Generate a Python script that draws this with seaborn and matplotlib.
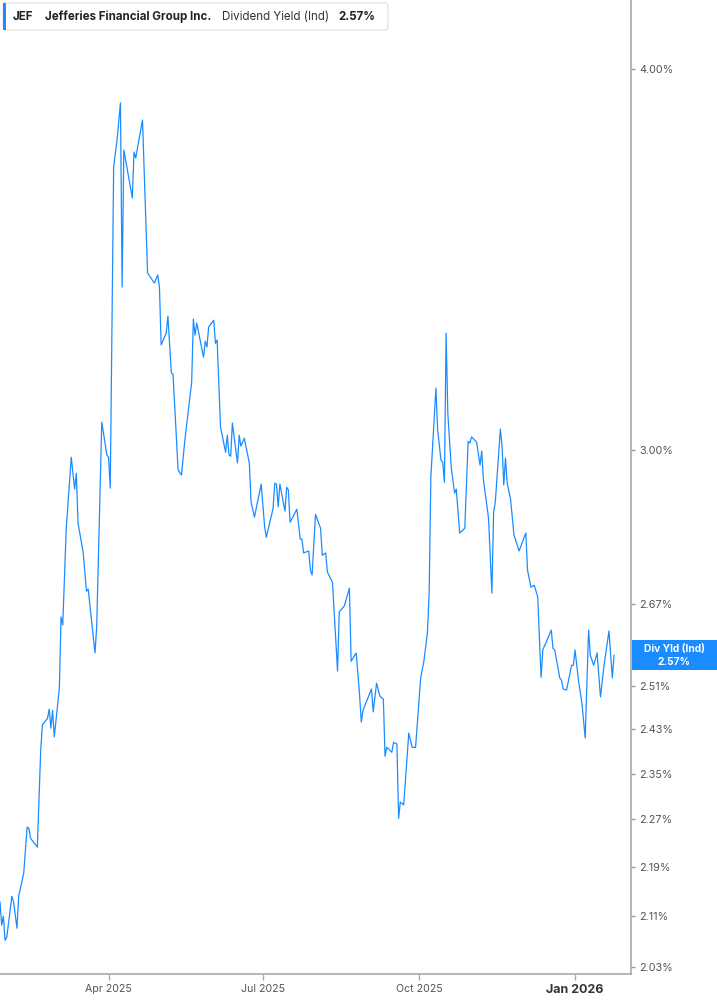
import pandas as pd
import seaborn as sns
import matplotlib.pyplot as plt
import matplotlib.dates as mdates
from matplotlib.patches import Rectangle, FancyBboxPatch
from matplotlib.ticker import FixedLocator, NullLocator, FuncFormatter

# dividend yield (%), days counted from 2025-01-27
day_offset = [0, 1, 2, 3, 4, 7, 8, 10, 11, 14, 16, 17, 18, 22, 24, 25, 28, 29, 30, 31,
              32, 35, 36, 37, 39, 42, 44, 45, 46, 49, 51, 52, 56, 57, 60, 63, 64, 65, 67, 69,
              71, 72, 73, 78, 79, 80, 84, 87, 91, 93, 94, 95, 98, 99, 101, 102, 105, 107, 109, 113,
              114, 115, 116, 120, 121, 122, 123, 126, 127, 128, 130, 133, 134, 135, 136, 137, 140, 141, 142, 144,
              147, 148, 150, 154, 156, 157, 161, 162, 163, 164, 165, 168, 169, 170, 171, 175, 177, 178, 179, 182,
              183, 184, 186, 189, 190, 192, 193, 196, 199, 200, 203, 206, 207, 210, 212, 213, 214, 219, 220, 222,
              224, 226, 227, 228, 231, 232, 234, 235, 236, 238, 240, 241, 243, 245, 248, 250, 252, 253, 254, 257,
              258, 260, 261, 262, 263, 264, 266, 268, 269, 271, 274, 276, 277, 278, 281, 283, 284, 285, 288, 290,
              291, 292, 295, 296, 297, 298, 299, 301, 303, 306, 310, 311, 313, 315, 317, 319, 320, 322, 325, 326,
              327, 330, 331, 332, 334, 337, 338, 339, 341, 343, 345, 347, 348, 350, 352, 354, 356, 359, 361, 362]
div_yield = [2.133, 2.096, 2.110, 2.072, 2.077, 2.142, 2.133, 2.091, 2.142, 2.180, 2.257, 2.255, 2.238, 2.223, 2.392, 2.438, 2.450, 2.467, 2.432, 2.465,
             2.416, 2.507, 2.645, 2.629, 2.824, 2.984, 2.913, 2.948, 2.839, 2.778, 2.697, 2.701, 2.574, 2.625, 3.064, 2.989, 2.984, 2.915, 3.715, 3.791,
             3.899, 3.393, 3.763, 3.629, 3.757, 3.740, 3.849, 3.429, 3.403, 3.424, 3.393, 3.248, 3.277, 3.319, 3.180, 3.177, 2.955, 2.944, 3.023, 3.158,
             3.312, 3.272, 3.302, 3.218, 3.257, 3.243, 3.292, 3.309, 3.252, 3.260, 3.053, 2.995, 3.034, 2.989, 2.986, 3.062, 2.971, 3.034, 3.009, 3.027,
             2.971, 2.885, 2.852, 2.924, 2.831, 2.809, 2.871, 2.926, 2.924, 2.874, 2.924, 2.865, 2.917, 2.911, 2.841, 2.869, 2.805, 2.805, 2.776, 2.780,
             2.740, 2.730, 2.858, 2.828, 2.771, 2.776, 2.736, 2.715, 2.539, 2.655, 2.667, 2.703, 2.558, 2.574, 2.493, 2.443, 2.465, 2.505, 2.462, 2.516,
             2.491, 2.486, 2.381, 2.397, 2.388, 2.406, 2.403, 2.272, 2.300, 2.295, 2.379, 2.423, 2.397, 2.397, 2.526, 2.560, 2.615, 2.693, 2.939, 3.144,
             3.046, 2.977, 2.973, 2.928, 3.277, 3.085, 2.962, 2.904, 2.913, 2.818, 2.828, 3.020, 3.016, 3.030, 3.018, 2.966, 2.998, 2.933, 2.850, 2.693,
             2.863, 2.885, 3.048, 3.007, 2.922, 2.982, 2.926, 2.891, 2.814, 2.780, 2.818, 2.740, 2.705, 2.709, 2.685, 2.527, 2.580, 2.595, 2.619, 2.583,
             2.580, 2.526, 2.522, 2.505, 2.503, 2.550, 2.550, 2.580, 2.522, 2.480, 2.414, 2.619, 2.570, 2.550, 2.574, 2.490, 2.547, 2.617, 2.526, 2.570]

ytick_vals = [2.03, 2.11, 2.19, 2.27, 2.35, 2.43, 2.51, 2.59, 2.67, 3.00, 4.00]
xtick_dates = ["2025-04-01", "2025-07-01", "2025-10-01", "2026-01-01"]
xtick_labels = ["Apr 2025", "Jul 2025", "Oct 2025", "Jan 2026"]

start = pd.Timestamp("2025-01-27")
df = pd.DataFrame({"date": start + pd.to_timedelta(day_offset, unit="D"),
                   "yield": div_yield})

blue = "#1a8cff"
W, H = 717, 1005

sns.set_theme(style="white")
plt.rcParams['font.family'] = ['Inter', 'DejaVu Sans']

fig = plt.figure(figsize=(W / 100, H / 100), dpi=100)
ax = fig.add_axes([0, 31 / H, 631 / W, 974 / H])

sns.lineplot(data=df, x="date", y="yield", ax=ax, color=blue, linewidth=0.9)

ax.set_yscale("log")
ax.set_ylim(2.02, 4.214)
ax.set_xlim(start, pd.Timestamp("2026-02-03"))

ax.yaxis.tick_right()
ax.yaxis.set_major_locator(FixedLocator(ytick_vals))
ax.yaxis.set_minor_locator(NullLocator())
ax.yaxis.set_major_formatter(FuncFormatter(lambda v, p: f"{v:.2f}%"))
ax.tick_params(axis="y", which="major", direction="out", length=3, width=1,
               color="#999999", labelcolor="#555555", labelsize=7.8, pad=3,
               right=True, left=False)

ax.set_xticks(pd.to_datetime(xtick_dates))
ax.set_xticklabels(xtick_labels)
ax.tick_params(axis="x", direction="out", length=4, width=1, color="#aaaaaa",
               labelcolor="#555555", labelsize=7.6, pad=3, bottom=True)
last_lbl = ax.get_xticklabels()[-1]
last_lbl.set_fontweight("bold")
last_lbl.set_fontsize(9)
last_lbl.set_color("#333333")

ax.set_xlabel("")
ax.set_ylabel("")
for side in ["left", "top"]:
    ax.spines[side].set_visible(False)
for side in ["right", "bottom"]:
    ax.spines[side].set_color("#aaaaaa")
    ax.spines[side].set_linewidth(1.2)

# current value tag on the right axis
last_x = mdates.date2num(df["date"].iloc[-1])
_, yd = ax.transData.transform((last_x, div_yield[-1]))
fig.add_artist(Rectangle((632 / W, (yd - 15) / H), 85 / W, 30 / H,
                         transform=fig.transFigure, facecolor=blue,
                         edgecolor="none", zorder=10))
fig.text(674 / W, (yd + 6.5) / H, "Div Yld (Ind)", ha="center", va="center",
         color="white", fontsize=7.4, fontweight="bold", zorder=11)
fig.text(674 / W, (yd - 6.5) / H, f"{div_yield[-1]:.2f}%", ha="center", va="center",
         color="white", fontsize=7.4, fontweight="bold", zorder=11)

# header legend box
fig.add_artist(FancyBboxPatch((3 / W, (H - 30) / H), 385 / W, 27 / H,
                              boxstyle="round,pad=0,rounding_size=0.004",
                              transform=fig.transFigure, facecolor="white",
                              edgecolor="#e0e0e0", linewidth=0.8, zorder=10))
fig.add_artist(Rectangle((3 / W, (H - 30) / H), 3 / W, 27 / H,
                         transform=fig.transFigure, facecolor=blue,
                         edgecolor="none", zorder=11))
ty = (H - 16.5) / H
fig.text(13 / W, ty, "JEF", ha="left", va="center", fontsize=8.3,
         fontweight="bold", color="#222222", zorder=12)
fig.text(45 / W, ty, "Jefferies Financial Group Inc.", ha="left", va="center",
         fontsize=8.3, fontweight="bold", color="#222222", zorder=12)
fig.text(222 / W, ty, "Dividend Yield (Ind)", ha="left", va="center",
         fontsize=8.3, color="#333333", zorder=12)
fig.text(338 / W, ty, f"{div_yield[-1]:.2f}%", ha="left", va="center",
         fontsize=8.3, fontweight="bold", color="#222222", zorder=12)

fig.savefig("out.png", dpi=100)
